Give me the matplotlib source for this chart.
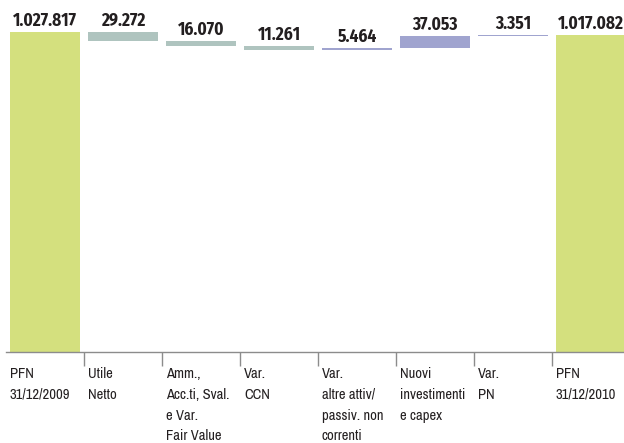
import matplotlib
matplotlib.use("Agg")
import matplotlib.pyplot as plt
import numpy as np

categories = ["PFN\n31/12/2009", "Utile\nNetto", "Amm.,\nAcc.ti, Sval.\ne Var.\nFair Value",
              "Var.\nCCN", "Var.\naltre attiv/\npassiv. non\ncorrenti", "Nuovi\ninvestimenti\ne capex",
              "Var.\nPN", "PFN\n31/12/2010"]
start_value = 1027817
changes = [-29272, -16070, -11261, 5464, 37053, 3351]
end_value = 1017082
value_labels = ["1.027.817", "29.272", "16.070", "11.261", "5.464", "37.053", "3.351", "1.017.082"]

c_total = "#d4e07e"
c_dec = "#afc4bf"
c_inc = "#a0a4cf"
c_axis = "#8c8c8c"

label_font = ['Archivo Narrow', 'Liberation Sans', 'DejaVu Sans']
value_font = ['Fira Sans Condensed', 'Liberation Sans', 'DejaVu Sans']

fig = plt.figure(figsize=(6.24, 4.43), dpi=100)
ax = fig.add_axes([6/624, 91/443, 624/624, 352/443])

bottoms, heights, colors = [0], [start_value], [c_total]
level = start_value
for ch in changes:
    new = level + ch
    bottoms.append(min(level, new))
    heights.append(abs(ch))
    colors.append(c_inc if ch > 0 else c_dec)
    level = new
bottoms.append(0)
heights.append(end_value)
colors.append(c_total)

x = np.arange(len(categories))
ax.bar(x, heights, bottom=bottoms, width=0.885, color=colors, linewidth=0)

for xi, b, h, lab in zip(x, bottoms, heights, value_labels):
    ax.annotate(lab, xy=(xi, b + h), xytext=(0, 6), textcoords='offset pixels',
                ha='center', va='baseline', fontsize=12.5, fontweight='bold',
                color='#231f20', family=value_font)

for xi, lab in zip(x, categories):
    ax.annotate(lab, xy=(xi - 0.5, 0), xytext=(4, -15), textcoords='offset pixels',
                ha='left', va='top', fontsize=10.5, color='#231f20', linespacing=1.62,
                family=label_font, annotation_clip=False)

ax.set_xlim(-0.5, 7.5)
ax.set_ylim(0, start_value * 352 / 320)
for s in ['top', 'right', 'left']:
    ax.spines[s].set_visible(False)
ax.spines['bottom'].set_color(c_axis)
ax.spines['bottom'].set_linewidth(1.0)
ax.set_yticks([])
ax.set_xticks(x[:-1] + 0.5)
ax.set_xticklabels([])
ax.tick_params(axis='x', direction='out', length=10, width=1.0, color=c_axis)

fig.savefig("out.png", dpi=100)
